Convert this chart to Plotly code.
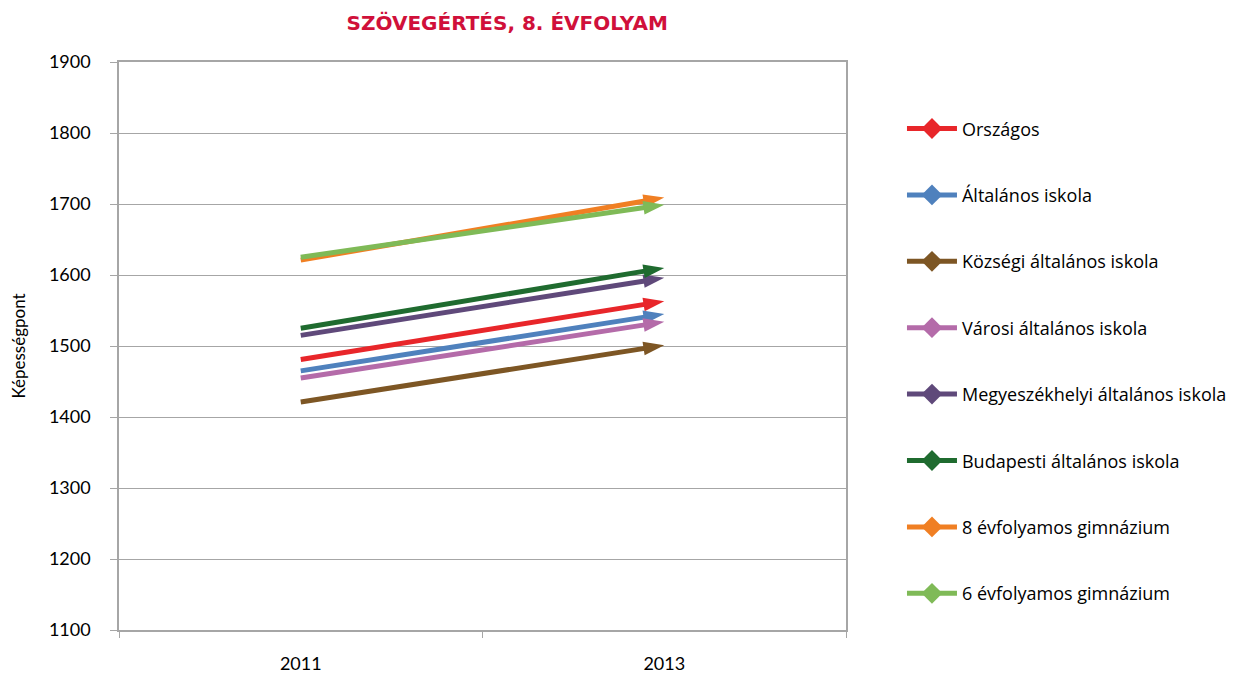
import plotly.graph_objects as go

# ============================================================================
# DATA
# ============================================================================

years = ["2011", "2013"]

series_names = [
    "Országos",
    "Általános iskola",
    "Községi általános iskola",
    "Városi általános iskola",
    "Megyeszékhelyi általános iskola",
    "Budapesti általános iskola",
    "8 évfolyamos gimnázium",
    "6 évfolyamos gimnázium",
]

orszagos = [1481, 1563]
altalanos = [1465, 1545]
kozsegi = [1421, 1501]
varosi = [1455, 1534]
megyeszekhelyi = [1515, 1596]
budapesti = [1525, 1610]
gimn_8 = [1621, 1709]
gimn_6 = [1625, 1699]

series_values = [orszagos, altalanos, kozsegi, varosi,
                 megyeszekhelyi, budapesti, gimn_8, gimn_6]

colors = ["#e8262a", "#4f81bd", "#7d5624", "#b46ba9",
          "#5f497a", "#1f6b2f", "#f07f23", "#7fba57"]

y_ticks = [1100, 1200, 1300, 1400, 1500, 1600, 1700, 1800, 1900]

FONT = "Lato, 'Open Sans', sans-serif"
WIDE = "'Open Sans', Lato, sans-serif"

# ============================================================================
# FIGURE
# ============================================================================

fig = go.Figure()

for i, (name, vals, color) in enumerate(zip(series_names, series_values, colors)):
    fig.add_trace(go.Scatter(
        x=years,
        y=vals,
        name=name,
        legendgroup=f"g{i}",
        mode="lines+markers",
        line=dict(color=color, width=5),
        marker=dict(
            symbol=["diamond", "arrow"],
            size=[12, 22],
            angleref="previous",
            color=color,
            opacity=1,
            line=dict(width=0),
        ),
    ))

fig.update_layout(
    title=dict(
        text="<b>SZÖVEGÉRTÉS, 8. ÉVFOLYAM</b>",
        font=dict(family="'DejaVu Sans', sans-serif", size=20, color="#d0103a"),
        x=0.534, xref="paper", xanchor="center",
        y=0.978, yanchor="middle",
    ),
    width=1244,
    height=673,
    margin=dict(l=111, r=406, t=54, b=51),
    plot_bgcolor="white",
    paper_bgcolor="white",
    font=dict(family=FONT, size=18, color="black"),
    showlegend=True,
    legend=dict(
        x=1.077, xanchor="left",
        y=0.915, yanchor="top",
        tracegroupgap=40,
        font=dict(family=WIDE, size=18, color="black"),
        itemwidth=50,
    ),
    xaxis=dict(
        type="category",
        range=[-0.5, 1.5],
        showgrid=False,
        showline=True,
        linecolor="#a6a6a6",
        linewidth=1.5,
        mirror=True,
        ticks="outside",
        tickson="boundaries",
        ticklen=6,
        tickcolor="#a6a6a6",
        tickfont=dict(size=18),
        ticklabelstandoff=17,
        automargin=False,
    ),
    yaxis=dict(
        range=[1100, 1900],
        tickvals=y_ticks,
        showgrid=True,
        gridcolor="#a6a6a6",
        gridwidth=1,
        showline=True,
        linecolor="#a6a6a6",
        linewidth=1.5,
        mirror=True,
        ticks="outside",
        ticklen=7,
        tickcolor="#a6a6a6",
        tickfont=dict(size=18),
        ticklabelstandoff=16,
        zeroline=False,
        automargin=False,
        title=dict(text="Képességpont", font=dict(size=17), standoff=20),
    ),
)

fig.write_html("out.html")
